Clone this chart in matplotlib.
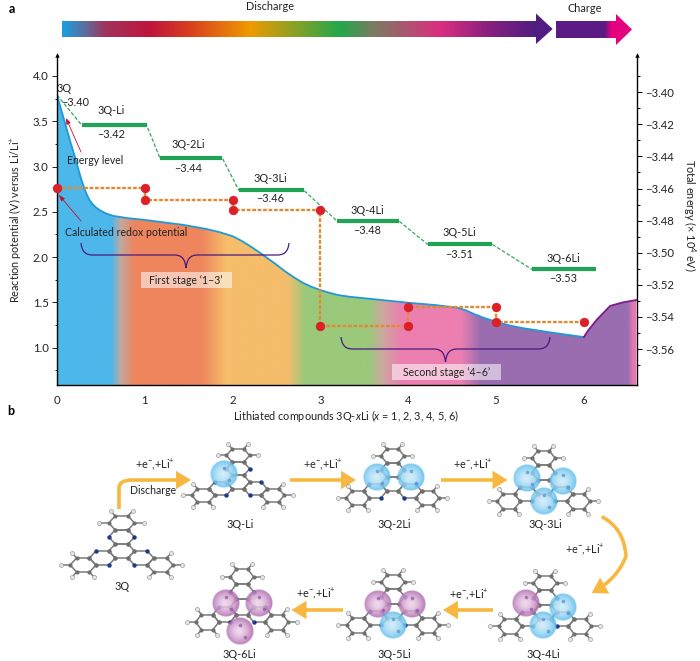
import numpy as np
import matplotlib
matplotlib.use("Agg")
import matplotlib.pyplot as plt
from matplotlib.colors import to_rgb
from matplotlib.patches import Polygon, Rectangle, PathPatch, FancyArrowPatch
from matplotlib.path import Path

plt.rcParams['font.family'] = ['Lato', 'DejaVu Sans']
plt.rcParams['mathtext.fontset'] = 'custom'
plt.rcParams['mathtext.rm'] = 'Lato'
plt.rcParams['mathtext.it'] = 'Lato:italic'
plt.rcParams['mathtext.default'] = 'regular'

# ---------- data ----------
curve_x = [0, 0.05, 0.10, 0.15, 0.20, 0.24, 0.28, 0.31, 0.34, 0.37, 0.40, 0.44, 0.49, 0.56, 0.64, 0.8, 1.0, 1.2, 1.44,
           1.7, 1.85, 2.0, 2.1, 2.2, 2.3, 2.4, 2.5, 2.6, 2.7, 2.8, 2.9, 3.0, 3.1, 3.2, 3.34, 3.7, 4.0, 4.3, 4.56,
           4.66, 4.75, 4.87, 5.0, 5.15, 5.3, 5.6, 6.0]
curve_y = [3.79, 3.62, 3.45, 3.28, 3.12, 2.98, 2.85, 2.76, 2.69, 2.63, 2.59, 2.55, 2.515, 2.48, 2.455, 2.43, 2.41, 2.385,
           2.355, 2.31, 2.275, 2.23, 2.18, 2.12, 2.055, 1.985, 1.915, 1.84, 1.775, 1.715, 1.67, 1.635, 1.605, 1.58,
           1.56, 1.525, 1.495, 1.47, 1.44, 1.41, 1.37, 1.325, 1.285, 1.245, 1.215, 1.17, 1.115]
charge_x = [6.0, 6.05, 6.15, 6.3, 6.45, 6.6]
charge_y = [1.115, 1.19, 1.31, 1.46, 1.50, 1.525]

level_start = [0.28, 1.17, 2.07, 3.19, 4.22, 5.41]
level_end = [1.02, 1.88, 2.81, 3.895, 4.955, 6.14]
level_energy = [-3.4204, -3.4407, -3.461, -3.4803, -3.4947, -3.5104]
level_first_energy = -3.4017
level_names = ['3Q-Li', '3Q-2Li', '3Q-3Li', '3Q-4Li', '3Q-5Li', '3Q-6Li']
level_values = ['−3.42', '−3.44', '−3.46', '−3.48', '−3.51', '−3.53']

redox_x = [0, 1, 1, 2, 2, 3, 3, 4, 4, 5, 5, 6]
redox_y = [2.76, 2.76, 2.63, 2.63, 2.52, 2.52, 1.24, 1.24, 1.45, 1.45, 1.28, 1.28]

left_ticks = [1.0, 1.5, 2.0, 2.5, 3.0, 3.5, 4.0]
right_ticks = [-3.40, -3.42, -3.44, -3.46, -3.48, -3.50, -3.52, -3.54, -3.56]
x_ticks = [0, 1, 2, 3, 4, 5, 6]

mol_names = ['3Q', '3Q-Li', '3Q-2Li', '3Q-3Li', '3Q-4Li', '3Q-5Li', '3Q-6Li']

# ---------- figure ----------
W, H = 700, 661
fig = plt.figure(figsize=(7.0, 6.61), dpi=100)
L, R, T, B = 57, 636.5, 55, 385
rect = [L / W, 1 - B / H, (R - L) / W, (B - T) / H]
ax2 = fig.add_axes(rect, zorder=0)
ax = fig.add_axes(rect, zorder=1)
ax.patch.set_visible(False)
ylo, yhi = 0.586, 4.232
ax.set_xlim(0, 6.6)
ax.set_ylim(ylo, yhi)
ax2.set_xlim(0, 6.6)
ax2.set_ylim(-3.5824, -3.3768)

# background gradient under the curve
stops = [(0, '#4db7ea'), (0.62, '#4db7ea'), (0.72, '#c0a9a0'), (0.88, '#ee855d'), (1.65, '#ee855d'), (1.92, '#f6bd6b'),
         (2.62, '#f6bd6b'), (2.82, '#9ac97b'), (3.55, '#9ac97b'), (3.72, '#cfa5a0'), (3.92, '#ec7fb0'), (4.6, '#ec7fb0'),
         (4.82, '#9a6db0'), (6.5, '#9a6db0'), (6.56, '#e27bb0'), (6.6, '#e27bb0')]
xs = np.linspace(0, 6.6, 800)
sx = [s[0] for s in stops]
cols = np.array([to_rgb(s[1]) for s in stops])
grad = np.stack([np.interp(xs, sx, cols[:, i]) for i in range(3)], axis=1)[None, :, :]
im = ax.imshow(grad, extent=[0, 6.6, ylo, yhi], aspect='auto', origin='lower', zorder=1)
all_x = curve_x + charge_x[1:]
all_y = curve_y + charge_y[1:]
poly = Polygon(list(zip(all_x, all_y)) + [(6.6, ylo), (0, ylo)], closed=True, transform=ax.transData,
               fc='none', ec='none')
ax.add_patch(poly)
im.set_clip_path(poly)
ax.set_xlim(0, 6.6)
ax.set_ylim(ylo, yhi)
ax.plot(curve_x, curve_y, color='#1f9ad6', lw=1.3, zorder=2)
ax.plot(charge_x, charge_y, color='#7e1a8a', lw=1.3, zorder=2)

# energy levels
green = '#1fa354'
path_x = [0]
path_e = [level_first_energy]
for a, b, e in zip(level_start, level_end, level_energy):
    path_x += [a, b]
    path_e += [e, e]
ax2.plot(path_x, path_e, color='#3aa55a', lw=0.9, ls=(0, (3, 1.5)), zorder=2)
for a, b, e in zip(level_start, level_end, level_energy):
    ax2.plot([a, b], [e, e], color=green, lw=3.0, solid_capstyle='butt', zorder=3)

# redox path
ax.plot(redox_x, redox_y, color='#e08a35', lw=1.7, ls=(0, (1.6, 0.7)), zorder=3, clip_on=False)
ax.plot(redox_x, redox_y, 'o', ms=6.4, color='#dd1f26', mec='#d01a22', mew=0.3, zorder=4, clip_on=False)

# axes styling
for a in (ax, ax2):
    a.spines['top'].set_visible(False)
    for s in a.spines.values():
        s.set_linewidth(1.0)
ax.spines['right'].set_visible(False)
ax2.spines['left'].set_visible(False)
ax2.spines['bottom'].set_visible(False)
ax2.yaxis.tick_right()
ax2.set_xticks([])
ax.set_xticks(x_ticks)
ax.set_xticklabels([str(v) for v in x_ticks], fontsize=8.2, color='#222222')
ax.tick_params(axis='x', length=0, pad=7.5)
ax.set_yticks(left_ticks)
ax.set_yticklabels([f'{v:.1f}' for v in left_ticks], fontsize=8.2, color='#222222')
ax.set_yticks([v + 0.25 for v in left_ticks[:-1]] + [0.75], minor=True)
ax.tick_params(axis='y', which='major', length=3.5, width=0.6, pad=2.5)
ax.tick_params(axis='y', which='minor', length=1.5, width=0.6)
ax2.set_yticks(right_ticks)
ax2.set_yticklabels([f'−{abs(v):.2f}' for v in right_ticks], fontsize=8.2, color='#222222')
ax2.set_yticks([v - 0.01 for v in right_ticks] + [-3.39], minor=True)
ax2.tick_params(axis='y', which='major', length=3.5, width=0.7, pad=2.5, right=True, left=False)
ax2.tick_params(axis='y', which='minor', length=2, width=0.7, right=True, left=False)
ax.plot([0], [1], '^', ms=3.2, color='k', mec='none', transform=ax.transAxes, clip_on=False, zorder=6)
ax2.plot([1], [1], '^', ms=3.2, color='k', mec='none', transform=ax2.transAxes, clip_on=False, zorder=6)

# ---------- overlay in figure pixels ----------
ov = fig.add_axes([0, 0, 1, 1], zorder=5)
ov.set_xlim(0, W)
ov.set_ylim(H, 0)
ov.axis('off')
ov.patch.set_visible(False)


def text(x, y, s, size=8.0, color='#222222', **kw):
    kw.setdefault('ha', 'center')
    kw.setdefault('va', 'center')
    ov.text(x, y, s, fontsize=size, color=color, **kw)


def gradient_shape(pts, x0, x1, gstops, y0, y1):
    xs_ = np.linspace(x0, x1, 500)
    gx = [g[0] for g in gstops]
    gc = np.array([to_rgb(g[1]) for g in gstops])
    arr = np.stack([np.interp(xs_, gx, gc[:, i]) for i in range(3)], axis=1)[None, :, :]
    im_ = ov.imshow(arr, extent=[x0, x1, y1, y0], aspect='auto', zorder=1)
    p = Polygon(pts, closed=True, fc='none', ec='none', transform=ov.transData)
    ov.add_patch(p)
    im_.set_clip_path(p)


gradient_shape([(62, 21), (536, 21), (536, 13.5), (552.7, 29), (536, 44), (536, 37), (62, 37)], 62, 553,
               [(62, '#1a9fe0'), (85, '#5f6c9c'), (105, '#a0345e'), (150, '#c0143c'), (190, '#d8401e'), (250, '#f09a00'),
                (340, '#22a84a'), (375, '#7f7a62'), (440, '#dc2e80'), (490, '#85207f'), (536, '#4f1e80'), (553, '#4f1e80')],
               13, 45)
gradient_shape([(556, 21), (616, 21), (616, 14), (632, 29.5), (616, 45), (616, 38), (556, 38)], 556, 632,
               [(556, '#5b1a84'), (605, '#5b1a84'), (611, '#e5007e'), (632, '#e5007e')], 13, 46)

text(12, 9, 'a', size=9, weight='bold', color='k')
text(11, 411, 'b', size=9, weight='bold', color='k')
text(270, 7, 'Discharge', size=7.8)
text(585, 8, 'Charge', size=7.8)

# chart labels
text(346, 416, 'Lithiated compounds 3Q-$\\mathit{x}$Li ($\\mathit{x}$ = 1, 2, 3, 4, 5, 6)', size=7.8)
text(15, 220, 'Reaction potential (V) versus Li/Li$^{+}$', size=7.8, rotation=90)
text(689, 215, 'Total energy (× 10$^{4}$ eV)', size=7.8, rotation=270)
text(64, 88, '3Q', size=7.8)
text(75, 103, '−3.40', size=7.8)
name_pos = [(111, 111), (188, 144), (270, 178), (367, 210), (459, 233), (563, 258)]
val_pos = [(111, 134), (188, 168), (270, 199), (367, 231), (459, 255), (563, 278)]
for (xn, yn), n in zip(name_pos, level_names):
    text(xn, yn, n, size=7.8)
for (xv, yv), v in zip(val_pos, level_values):
    text(xv, yv, v, size=7.8)
text(95, 160, 'Energy level', size=7.6)
text(126, 232, 'Calculated redox potential', size=7.6)

# stage boxes
ov.add_patch(Rectangle((141, 272), 91, 16, fc='white', ec='none', alpha=0.55, zorder=2))
text(186, 280, "First stage ‘1–3’", size=7.6, zorder=3)
ov.add_patch(Rectangle((392, 364), 109, 16, fc='white', ec='none', alpha=0.55, zorder=2))
text(447, 372, "Second stage ‘4–6’", size=7.6, zorder=3)


def brace(x0, xm, x1, ytop, yflat, ytip):
    verts = [(x0, ytop), (x0 + 1, yflat - 2), (x0 + 6, yflat), (x0 + 12, yflat), (xm - 12, yflat), (xm - 4, yflat),
             (xm - 1, yflat + 4), (xm, ytip), (xm + 1, yflat + 4), (xm + 4, yflat), (xm + 12, yflat), (x1 - 12, yflat),
             (x1 - 6, yflat), (x1 - 1, yflat - 2), (x1, ytop)]
    codes = [Path.MOVETO, Path.CURVE4, Path.CURVE4, Path.CURVE4, Path.LINETO, Path.CURVE4, Path.CURVE4, Path.CURVE4,
             Path.CURVE4, Path.CURVE4, Path.CURVE4, Path.LINETO, Path.CURVE4, Path.CURVE4, Path.CURVE4]
    ov.add_patch(PathPatch(Path(verts, codes), fc='none', ec='#4a1a80', lw=0.9, zorder=3))


brace(81, 186, 289, 243, 255, 268)
brace(341, 445.5, 550, 337, 349, 362)

for start, end in [((81, 152), (66, 118)), ((81, 221), (59, 195))]:
    ov.annotate('', xy=end, xytext=start, zorder=4,
                arrowprops=dict(arrowstyle='-|>,head_length=0.35,head_width=0.13', color='#c8102e', lw=0.6,
                                shrinkA=0, shrinkB=0, mutation_scale=10))


# ---------- molecules ----------
def ring_vertices(cx_, cy_, b):
    return [(cx_ + b * np.cos(np.radians(a)), cy_ + b * np.sin(np.radians(a))) for a in range(0, 360, 60)]


def molecule(cx, cy, b, sy):
    def P(p):
        return cx + p[0], cy - sy * p[1]
    s3 = np.sqrt(3) * b
    rings = [((0, 0), ring_vertices(0, 0, b))]
    bonds = [(ring_vertices(0, 0, b)[i], ring_vertices(0, 0, b)[(i + 1) % 6]) for i in range(6)]
    carbons, nitro, hydro = list(rings[0][1]), [], []
    key = lambda p: (round(p[0], 3), round(p[1], 3))
    for th in (90, 210, 330):
        ux, uy = np.cos(np.radians(th)), np.sin(np.radians(th))
        rA = ring_vertices(ux * s3, uy * s3, b)
        rB = ring_vertices(2 * ux * s3, 2 * uy * s3, b)
        centre = {key(p) for p in rings[0][1]}
        setA, setB = {key(p) for p in rA}, {key(p) for p in rB}
        for p in rA:
            k = key(p)
            if k not in centre and k not in setB:
                nitro.append(p)
            else:
                carbons.append(p)
        for p in rB:
            carbons.append(p)
            if key(p) not in setA:
                dx, dy = p[0] - 2 * ux * s3, p[1] - 2 * uy * s3
                h = (p[0] + 0.72 * dx, p[1] + 0.72 * dy)
                hydro.append(h)
                bonds.append((p, h))
        for r in (rA, rB):
            bonds += [(r[i], r[(i + 1) % 6]) for i in range(6)]
    for p, q in bonds:
        (x1, y1), (x2, y2) = P(p), P(q)
        ov.plot([x1, x2], [y1, y2], color='#7a7a7a', lw=1.1, zorder=2, solid_capstyle='round')
    ov.plot(*zip(*[P(p) for p in hydro]), 'o', ms=2.9, color='#e6e6e6', mec='#8a8a8a', mew=0.4, zorder=3, ls='none')
    ov.plot(*zip(*[P(p) for p in carbons]), 'o', ms=3.0, color='#6f6f6f', mec='none', zorder=3, ls='none')
    ov.plot(*zip(*[P(p) for p in nitro]), 'o', ms=3.2, color='#1f3a8a', mec='none', zorder=3, ls='none')


def sphere(x, y, r, kind):
    n = 64
    yy, xx = np.mgrid[-1:1:n * 1j, -1:1:n * 1j]
    d = np.sqrt(xx ** 2 + yy ** 2)
    d2 = np.clip(np.sqrt((xx + 0.05) ** 2 + (yy - 0.0) ** 2) / 1.05, 0, 1)
    inner, outer = (('#cdeaf8', '#52b9ec') if kind == 'b' else ('#eed3ea', '#a85ea8'))
    ci, co = np.array(to_rgb(inner)), np.array(to_rgb(outer))
    rgb = ci[None, None, :] * (1 - d2[..., None] ** 1.5) + co[None, None, :] * d2[..., None] ** 1.5
    alpha = np.clip((1 - d) * n / 3.0, 0, 1) * 0.85
    ov.imshow(np.dstack([rgb, alpha]), extent=[x - r, x + r, y + r, y - r], aspect='auto', zorder=4,
              interpolation='bilinear')
    ov.plot([x, x + 0.35 * r], [y - 0.4 * r, y + 0.45 * r], 'o', ms=2.6,
            color='#5a8ad0' if kind == 'b' else '#8f559f', mec='none', alpha=0.7, zorder=5, ls='none')


mol_geom = [(121.6, 551, 12.85, 0.63), (238, 482, 11.6, 0.66), (392.5, 484, 11.6, 0.70), (543.5, 487, 11.6, 0.72),
            (545, 612, 11.6, 0.72), (393, 611, 11.6, 0.72), (242, 607, 11.6, 0.75)]
for g in mol_geom:
    molecule(*g)
spheres = [(224, 474, 'b'),
           (376.7, 477, 'b'), (411, 477, 'b'),
           (527, 478, 'b'), (563, 481, 'b'), (544, 501, 'b'),
           (526, 603, 'p'), (563, 607, 'b'), (543, 625, 'b'),
           (378, 604, 'p'), (412, 604, 'p'), (393, 625, 'b'),
           (226, 603, 'p'), (259, 603, 'p'), (240, 631, 'p')]
for x_, y_, k_ in spheres:
    sphere(x_, y_, 14, k_)

mol_label = [(121.7, 587), (240, 524), (394, 524), (545, 524), (543, 655), (394, 655), (239, 654)]
for (xl, yl), n in zip(mol_label, mol_names):
    text(xl, yl, n, size=7.8)

# orange arrows
orange = '#f7b740'


def arrow(verts, codes):
    ov.add_patch(FancyArrowPatch(path=Path(verts, codes), arrowstyle='-|>,head_length=7,head_width=4.3',
                                 color=orange, lw=2.6, mutation_scale=1, zorder=2, shrinkA=0, shrinkB=0,
                                 joinstyle='miter', capstyle='butt'))


arrow([(119, 509), (119, 488), (119, 480), (132, 480), (191, 480)],
      [Path.MOVETO, Path.LINETO, Path.CURVE3, Path.CURVE3, Path.LINETO])
for v in [[(290, 480), (356, 480)], [(441, 480), (507.5, 480)], [(493, 610), (443, 610)], [(343, 610), (291.5, 610)]]:
    arrow(v, [Path.MOVETO, Path.LINETO])
arrow([(601.7, 516.7), (624, 528), (626, 556), (618, 578), (591.7, 593)],
      [Path.MOVETO, Path.CURVE3, Path.CURVE3, Path.CURVE3, Path.CURVE3])

ev = '+e$^{-}$,+Li$^{+}$'
for xe, ye in [(155, 465), (322.7, 465), (472.7, 465), (585, 550), (469, 595), (315.7, 594)]:
    text(xe, ye, ev, size=7.8)
text(153, 490.7, 'Discharge', size=7.6)

ov.set_xlim(0, W)
ov.set_ylim(H, 0)
fig.savefig('out.png', dpi=100)
